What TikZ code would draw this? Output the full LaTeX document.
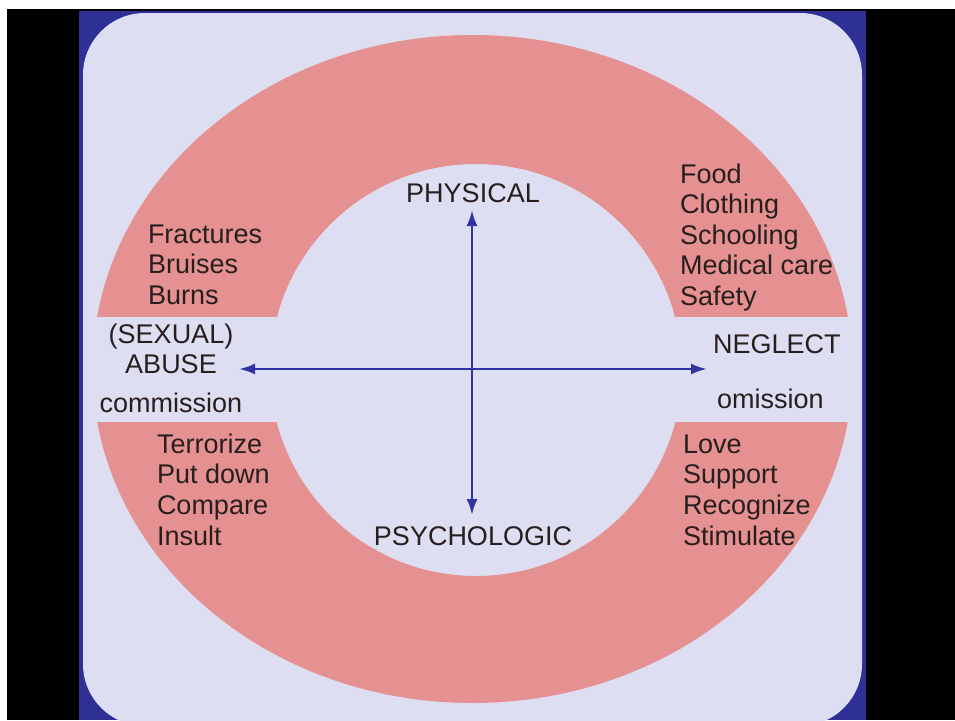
\documentclass[tikz,border=0pt]{standalone}
\usepackage{fontspec}
\setmainfont{Liberation Sans}
\usetikzlibrary{arrows.meta}
\definecolor{ringpink}{RGB}{229,145,145}
\definecolor{lav}{RGB}{222,222,242}
\definecolor{frameblue}{RGB}{46,48,150}
\definecolor{arrowblue}{RGB}{50,50,162}
\definecolor{txt}{RGB}{40,30,30}
\tikzset{
  lbl/.style={inner sep=0pt, outer sep=0pt, text=txt, font=\fontsize{27}{31}\selectfont},
  axis/.style={draw=arrowblue, line width=2.5pt, {Latex[length=16pt,width=11pt]}-{Latex[length=16pt,width=11pt]}}
}
\begin{document}
\begin{tikzpicture}[x=1pt,y=-1pt]
\useasboundingbox (0,0) rectangle (955,720);
\clip (0,0) rectangle (955,720);
\fill[white] (0,0) rectangle (955,720);
\fill[black] (7,9) rectangle (955,720);
\fill[frameblue] (79,11) rectangle (866,720);
\fill[lav, rounded corners=62pt] (83,13) rectangle (862,726);
% ring
\fill[ringpink, even odd rule] (472.5,369) ellipse [x radius=380pt, y radius=334pt]
  (476,370) circle [radius=206pt];
% horizontal gap band
\fill[lav] (88,317) rectangle (858,422);
% axes
\coordinate (hl) at (239,369);
\coordinate (hr) at (707,369);
\coordinate (vt) at (472,210);
\coordinate (vb) at (472,515);
\draw[axis] (hl) -- (hr);
\draw[axis] (vt) -- (vb);
% labels
\node[lbl, anchor=base] (phys) at (473,202) {PHYSICAL};
\node[lbl, anchor=base] (psych) at (473,545) {PSYCHOLOGIC};
\node[lbl, anchor=base] (sex) at (171,343) {(SEXUAL)};
\node[lbl, anchor=base] (abuse) at (171,373) {ABUSE};
\node[lbl, anchor=base] (comm) at (171,412) {commission};
\node[lbl, anchor=base west] (negl) at (713,353) {NEGLECT};
\node[lbl, anchor=base west] (omis) at (717,408) {omission};
\foreach \t [count=\i from 0] in {Fractures,Bruises,Burns}
  \node[lbl, anchor=base west] (phy-\i) at (148,243+30.7*\i) {\t};
\foreach \t [count=\i from 0] in {Food,Clothing,Schooling,Medical care,Safety}
  \node[lbl, anchor=base west] (neg-\i) at (680,183+30.6*\i) {\t};
\foreach \t [count=\i from 0] in {Terrorize,Put down,Compare,Insult}
  \node[lbl, anchor=base west] (psy-\i) at (157,453+30.7*\i) {\t};
\foreach \t [count=\i from 0] in {Love,Support,Recognize,Stimulate}
  \node[lbl, anchor=base west] (emo-\i) at (683,453+30.7*\i) {\t};
\end{tikzpicture}
\end{document}
